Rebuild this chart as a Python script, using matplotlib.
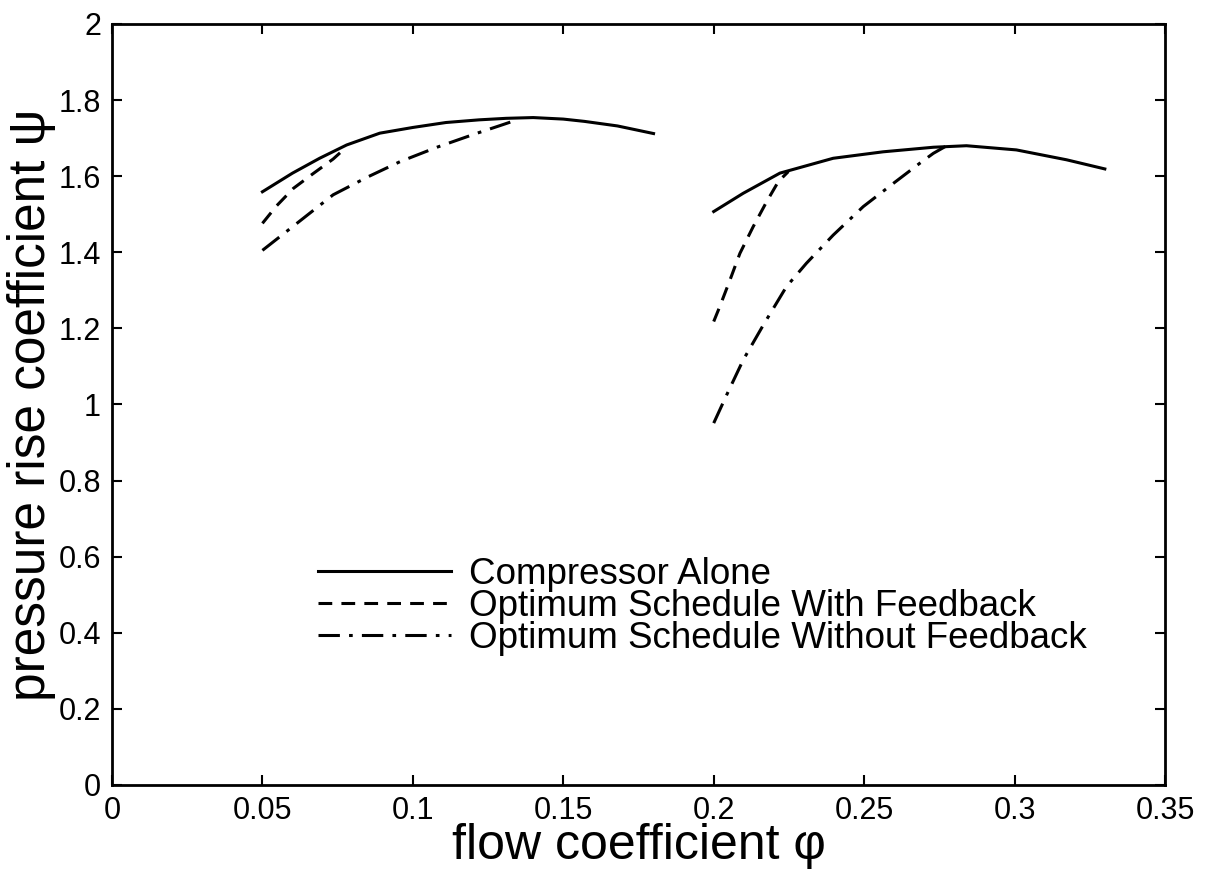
import numpy as np
import matplotlib
matplotlib.use("Agg")
import matplotlib.pyplot as plt
from matplotlib.ticker import FuncFormatter

plt.rcParams['font.family'] = ['Liberation Sans', 'DejaVu Sans']

#%% data
# left operating point
comp1_x = [0.050, 0.060, 0.069, 0.078, 0.089, 0.100, 0.111, 0.122, 0.131, 0.140, 0.150, 0.157, 0.168, 0.180]
comp1_y = [1.559, 1.608, 1.647, 1.682, 1.713, 1.728, 1.741, 1.748, 1.752, 1.754, 1.750, 1.744, 1.732, 1.712]
fb1_x = [0.050, 0.0547, 0.0603, 0.0669, 0.0735, 0.077]
fb1_y = [1.476, 1.522, 1.568, 1.607, 1.645, 1.670]
nofb1_x = [0.050, 0.060, 0.0735, 0.085, 0.0957, 0.108, 0.121, 0.129, 0.135]
nofb1_y = [1.405, 1.467, 1.551, 1.598, 1.638, 1.676, 1.712, 1.733, 1.749]

# right operating point
comp2_x = [0.200, 0.2098, 0.222, 0.2397, 0.2563, 0.273, 0.284, 0.3006, 0.3173, 0.330]
comp2_y = [1.507, 1.555, 1.608, 1.647, 1.664, 1.676, 1.680, 1.669, 1.643, 1.619]
fb2_x = [0.200, 0.202, 0.2054, 0.2087, 0.2131, 0.2176, 0.2215, 0.2248]
fb2_y = [1.218, 1.257, 1.327, 1.397, 1.467, 1.533, 1.586, 1.612]
nofb2_x = [0.200, 0.2043, 0.2098, 0.2165, 0.2242, 0.2308, 0.2397, 0.2497, 0.2597, 0.2685, 0.273, 0.277]
nofb2_y = [0.951, 1.025, 1.117, 1.209, 1.310, 1.371, 1.445, 1.520, 1.581, 1.634, 1.660, 1.678]

labels = ['Compressor Alone',
          'Optimum Schedule With Feedback',
          'Optimum Schedule Without Feedback']

#%%
fig = plt.figure(figsize=(12.07, 8.81), dpi=100)
ax = fig.add_axes([0.0928, 0.109, 0.8724, 0.8638])

lw = 2.2
dash = (0, (4.5, 3.0))
dashdot = (0, (7.0, 3.0, 1.2, 3.0))

l1, = ax.plot(comp1_x, comp1_y, color='k', lw=lw, ls='-')
ax.plot(comp2_x, comp2_y, color='k', lw=lw, ls='-')
l2, = ax.plot(fb1_x, fb1_y, color='k', lw=lw, ls=dash)
ax.plot(fb2_x, fb2_y, color='k', lw=lw, ls=dash)
l3, = ax.plot(nofb1_x, nofb1_y, color='k', lw=lw, ls=dashdot)
ax.plot(nofb2_x, nofb2_y, color='k', lw=lw, ls=dashdot)

ax.set_xlim(0, 0.35)
ax.set_ylim(0, 2)
ax.set_xticks(np.arange(0, 0.351, 0.05))
ax.set_yticks(np.arange(0, 2.01, 0.2))
fmt = FuncFormatter(lambda v, p: '%g' % round(v, 4))
ax.xaxis.set_major_formatter(fmt)
ax.yaxis.set_major_formatter(fmt)
ax.tick_params(direction='in', top=True, right=True, length=7, width=1.5,
               labelsize=22, pad=8)
for s in ax.spines.values():
    s.set_linewidth(2.0)

ax.set_xlabel('flow coefficient \u03c6', fontsize=36, labelpad=-2)
ax.set_ylabel('pressure rise coefficient \u03c8', fontsize=37, labelpad=2)

ax.legend([l1, l2, l3], labels, loc='upper left', bbox_to_anchor=(0.196, 0.30),
          frameon=False, fontsize=26.5, handlelength=3.6, handletextpad=0.5,
          labelspacing=-0.08, borderpad=0, borderaxespad=0)

fig.savefig('out.png', dpi=100)
